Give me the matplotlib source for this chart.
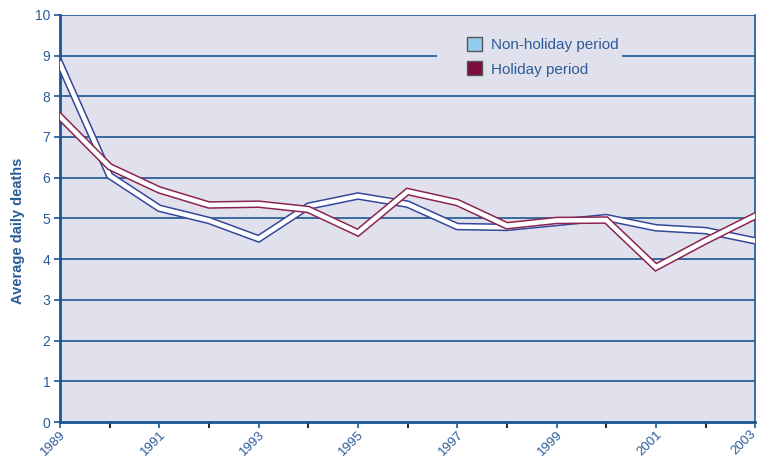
import matplotlib.pyplot as plt
import matplotlib.patches as mpatches
import matplotlib.transforms as mtransforms

years = list(range(1989, 2004))
non_holiday = [8.8, 6.05, 5.25, 4.95, 4.5, 5.3, 5.55, 5.35, 4.8, 4.78, 4.9, 5.02, 4.77, 4.7, 4.45]
holiday = [7.5, 6.27, 5.7, 5.33, 5.35, 5.22, 4.65, 5.66, 5.39, 4.82, 4.95, 4.96, 3.8, 4.45, 5.06]

navy = "#1d5592"
text_col = "#2b5c97"
bg = "#e1e1ee"

plt.rcParams["font.family"] = ["Liberation Sans", "DejaVu Sans"]

fig = plt.figure(figsize=(7.59, 4.58), dpi=100)
ax = fig.add_axes([0.079, 0.0786, 0.916, 0.889])
ax.set_facecolor(bg)

for v in range(1, 11):
    ax.axhline(v, color=navy, lw=1.2, zorder=1)

# double-stroke lines: coloured outline with white core
ax.plot(years, non_holiday, color="#34479a", lw=5.5, solid_joinstyle="miter", zorder=3)
ax.plot(years, non_holiday, color="white", lw=3.3, solid_joinstyle="miter", zorder=3)
ax.plot(years, holiday, color="#8c2450", lw=5.5, solid_joinstyle="miter", zorder=4)
ax.plot(years, holiday, color="white", lw=3.3, solid_joinstyle="miter", zorder=4)

ax.set_xlim(1989, 2003)
ax.set_ylim(0, 10)
ax.set_yticks(range(0, 11))
ax.set_xticks(years[::2])
ax.set_xticks(years, minor=True)
ax.set_xticklabels([str(y) for y in years[::2]], rotation=45, ha="right",
                   rotation_mode="anchor")
ax.tick_params(axis="both", colors=navy, labelcolor=text_col, labelsize=10)
ax.tick_params(axis="x", which="both", length=4, width=1.2, direction="out", pad=0.5)
ax.tick_params(axis="x", labelsize=9.5)
ax.tick_params(axis="y", length=4, width=1.2, pad=3)

# keep the last year label inside the canvas
last = ax.get_xticklabels()[-1]
last.set_transform(last.get_transform() +
                   mtransforms.ScaledTranslation(-4 / 72, 0, fig.dpi_scale_trans))

for s in ["left", "bottom"]:
    ax.spines[s].set_color(navy)
    ax.spines[s].set_linewidth(2)
ax.spines["right"].set_color(navy)
ax.spines["right"].set_linewidth(1.2)
ax.spines["top"].set_visible(False)

ax.set_ylabel("Average daily deaths", color=text_col, fontsize=10.5,
              fontweight="bold")
ax.yaxis.set_label_coords(-0.05, 0.47)

# background patch that breaks the gridline behind the legend
ax.add_patch(mpatches.Rectangle((0.5425, 0.84), 0.266, 0.12, transform=ax.transAxes,
                                facecolor=bg, edgecolor="none", zorder=2))

handles = [
    mpatches.Patch(facecolor="#92cbee", edgecolor="#555555", label="Non-holiday period"),
    mpatches.Patch(facecolor="#7c0c40", edgecolor="#555555", label="Holiday period"),
]
leg = ax.legend(handles=handles, loc="upper left", bbox_to_anchor=(0.585, 0.945),
                frameon=False, fontsize=11, handlelength=1.0, handleheight=1.0,
                borderpad=0.0, labelspacing=0.6, handletextpad=0.6,
                borderaxespad=0.0)
for t in leg.get_texts():
    t.set_color(text_col)
leg.set_zorder(5)

fig.savefig("out.png", dpi=100)
